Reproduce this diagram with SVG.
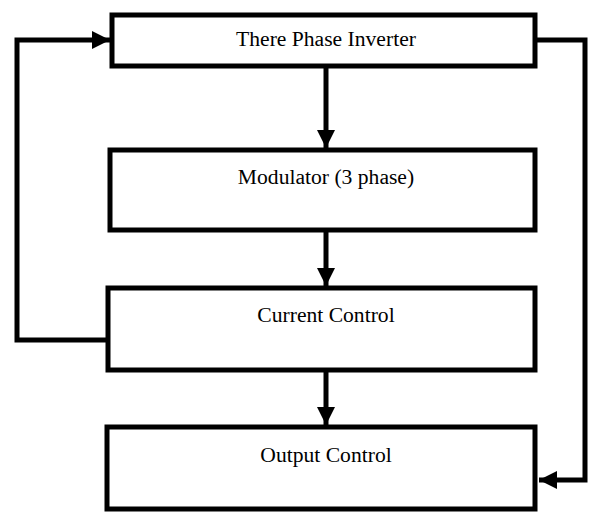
<svg xmlns="http://www.w3.org/2000/svg" width="591" height="513" viewBox="0 0 591 513">
<style>
.box{fill:#fff;stroke:#000;stroke-width:5}
.lbl{font-family:"Liberation Serif","Times New Roman",serif;font-size:21.6px;fill:#000;text-anchor:middle}
.wire{fill:none;stroke:#000;stroke-width:5;stroke-linejoin:miter}
</style>
<defs>
<marker id="ah" viewBox="0 0 10 10" refX="10" refY="5" markerWidth="3.6" markerHeight="3.6" markerUnits="strokeWidth" orient="auto">
<path d="M0,0 L10,5 L0,10 Z" fill="#000"/>
</marker>
</defs>
<rect width="591" height="513" fill="#fff"/>
<g id="connectors">
<path class="wire" d="M326,67 V148" marker-end="url(#ah)"/>
<path class="wire" d="M326,231 V286" marker-end="url(#ah)"/>
<path class="wire" d="M326,371 V425" marker-end="url(#ah)"/>
<path class="wire" d="M108,340 H17 V40 H110" marker-end="url(#ah)"/>
<path class="wire" d="M537,40 H585 V480 H539" marker-end="url(#ah)"/>
</g>
<g id="inverter">
<rect class="box" x="112" y="15" width="423" height="51"/>
<text class="lbl" x="326" y="46">There Phase Inverter</text>
</g>
<g id="modulator">
<rect class="box" x="110" y="150" width="425" height="80"/>
<text class="lbl" x="326" y="184">Modulator (3 phase)</text>
</g>
<g id="current">
<rect class="box" x="108" y="288" width="427" height="82"/>
<text class="lbl" x="326" y="322">Current Control</text>
</g>
<g id="output">
<rect class="box" x="107" y="427" width="428" height="82"/>
<text class="lbl" x="326" y="462">Output Control</text>
</g>
</svg>
